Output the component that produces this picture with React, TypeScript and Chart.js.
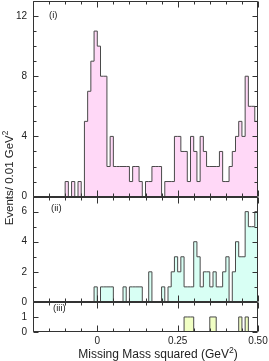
import React, { useEffect, useRef } from 'react';
import { Chart, registerables } from 'chart.js';

Chart.register(...registerables);

// Histogram binning (GeV^2): 70 bins of 0.01 from -0.20 to 0.50
const binStart = -0.2;
const binWidth = 0.01;

// (i) events per bin
const countsI = [
  0, 0, 0, 0, 0, 0, 0, 0, 0, 0,
  1, 0, 1, 0, 1, 0, 5, 7, 9, 11,
  10, 8, 8, 2, 4, 2, 2, 2, 2, 2,
  1, 2, 2, 1, 0, 1, 1, 2, 2, 2,
  0, 1, 1, 1, 4, 4, 3, 3, 1, 4,
  3, 1, 4, 3, 2, 2, 2, 2, 3, 1,
  1, 2, 3, 4, 5, 4, 8, 6, 6, 5,
];

// (ii) events per bin
const countsII = [
  0, 0, 0, 0, 0, 0, 0, 0, 0, 0,
  0, 0, 0, 0, 0, 0, 0, 0, 0, 1,
  0, 1, 1, 1, 1, 0, 0, 0, 1, 0,
  1, 1, 1, 1, 0, 0, 2, 0, 0, 0,
  1, 0, 1, 2, 3, 2, 3, 1, 1, 1,
  4, 3, 1, 2, 2, 1, 2, 1, 1, 2,
  3, 0, 2, 4, 3, 3, 6, 5, 5, 6,
];

// (iii) events per bin
const countsIII = [
  0, 0, 0, 0, 0, 0, 0, 0, 0, 0,
  0, 0, 0, 0, 0, 0, 0, 0, 0, 0,
  0, 0, 0, 0, 0, 0, 0, 0, 0, 0,
  0, 0, 0, 0, 0, 0, 0, 0, 0, 0,
  0, 0, 0, 0, 0, 0, 0, 1, 1, 1,
  0, 0, 0, 0, 0, 1, 1, 0, 0, 0,
  0, 0, 0, 0, 1, 0, 1, 0, 0, 0,
];

const yMaxI = 13;
const yMaxII = 7;
const yMaxIII = 2;
const yLabelsI = [0, 4, 8, 12];
const yLabelsII = [0, 2, 4, 6];
const yLabelsIII = [0, 1];

const xMin = -0.2;
const xMax = 0.5;
const xMinorStep = 0.05;
const xTickValues = [0, 0.25, 0.5];
const xTickLabels = ['0', '0.25', '0.50'];

const panelNames = ['(i)', '(ii)', '(iii)'];
const fillColors = ['#ffd8f7', '#d8fff4', '#f1ffc4'];

const xTitle = 'Missing Mass squared (GeV';
const yTitle = 'Events/ 0.01 GeV';
const titleSup = '2';

const FONT = '"Liberation Sans", Arial, Helvetica, sans-serif';

function stepPoints(counts: number[]) {
  const pts = counts.map((c, i) => ({ x: binStart + i * binWidth, y: c }));
  pts.push({ x: binStart + counts.length * binWidth, y: counts[counts.length - 1] });
  return pts;
}

export default function App() {
  const ref = useRef<HTMLCanvasElement>(null);

  useEffect(() => {
    const canvas = ref.current;
    if (!canvas) return;

    const panels = [
      { id: 'y1', counts: countsI, max: yMaxI, labels: yLabelsI, color: fillColors[0], name: panelNames[0], weight: 3, lx: 16, ly: 14 },
      { id: 'y2', counts: countsII, max: yMaxII, labels: yLabelsII, color: fillColors[1], name: panelNames[1], weight: 2, lx: 18, ly: 12 },
      { id: 'y3', counts: countsIII, max: yMaxIII, labels: yLabelsIII, color: fillColors[2], name: panelNames[2], weight: 1, lx: 20, ly: 6 },
    ];

    const drawSupText = (ctx: CanvasRenderingContext2D, main: string, cx: number, cy: number, size: number, closing: boolean) => {
      ctx.font = `${size}px ${FONT}`;
      const w1 = ctx.measureText(main).width;
      const w3 = ctx.measureText(')').width;
      ctx.font = `${size * 0.72}px ${FONT}`;
      const w2 = ctx.measureText(titleSup).width;
      const total = w1 + w2 + (closing ? w3 : 0);
      let x = cx - total / 2;
      ctx.textAlign = 'left';
      ctx.textBaseline = 'middle';
      ctx.font = `${size}px ${FONT}`;
      ctx.fillText(main, x, cy);
      x += w1;
      ctx.font = `${size * 0.72}px ${FONT}`;
      ctx.fillText(titleSup, x, cy - size * 0.38);
      x += w2;
      if (closing) {
        ctx.font = `${size}px ${FONT}`;
        ctx.fillText(')', x, cy);
      }
    };

    const framePlugin = {
      id: 'frame',
      afterDraw(chart: any) {
        const ctx: CanvasRenderingContext2D = chart.ctx;
        const { left, right } = chart.chartArea;
        const xs = chart.scales.x;
        const L = Math.round(left) + 0.5;
        const R = Math.round(right) - 0.5;

        // frames and inward ticks
        ctx.save();
        ctx.strokeStyle = '#333';
        ctx.lineWidth = 1;
        panels.forEach((p) => {
          const ys = chart.scales[p.id];
          const T = Math.round(ys.top) + 0.5;
          const B = Math.round(ys.bottom) - 0.5;
          ctx.beginPath();
          ctx.rect(L, T, R - L, B - T);
          for (let v = 0; v <= p.max; v++) {
            const y = Math.round(ys.getPixelForValue(v)) + 0.5;
            const len = p.labels.includes(v) ? 5 : 3;
            ctx.moveTo(L, y);
            ctx.lineTo(L + len, y);
            ctx.moveTo(R, y);
            ctx.lineTo(R - len, y);
          }
          const n = Math.round((xMax - xMin) / xMinorStep);
          for (let k = 0; k <= n; k++) {
            const v = xMin + k * xMinorStep;
            const x = Math.round(xs.getPixelForValue(v)) + 0.5;
            const major = xTickValues.some((m) => Math.abs(m - v) < 1e-9);
            const len = major ? 6 : 3;
            ctx.moveTo(x, B);
            ctx.lineTo(x, B - len);
            ctx.moveTo(x, T);
            ctx.lineTo(x, T + len);
          }
          ctx.stroke();
        });
        ctx.restore();

        // panel names
        ctx.save();
        ctx.fillStyle = '#222';
        ctx.font = `9.5px ${FONT}`;
        ctx.textAlign = 'left';
        ctx.textBaseline = 'middle';
        panels.forEach((p) => {
          const ys = chart.scales[p.id];
          ctx.fillText(p.name, left + p.lx, ys.top + p.ly);
        });
        ctx.restore();

        // axis titles
        ctx.save();
        ctx.fillStyle = '#222';
        drawSupText(ctx, xTitle, 158, 355, 12, true);
        ctx.restore();
        ctx.save();
        ctx.fillStyle = '#222';
        ctx.translate(10, 178);
        ctx.rotate(-Math.PI / 2);
        drawSupText(ctx, yTitle, 0, 0, 11.5, false);
        ctx.restore();

        // y tick labels (drawn last)
        ctx.save();
        ctx.fillStyle = '#222';
        ctx.font = `10px ${FONT}`;
        ctx.textAlign = 'right';
        ctx.textBaseline = 'middle';
        panels.forEach((p) => {
          const ys = chart.scales[p.id];
          p.labels.forEach((v: number) => {
            ctx.fillText(String(v), 27, ys.getPixelForValue(v));
          });
        });
        ctx.restore();
      },
    };

    const yScale = (p: any, stackWeight: number) => ({
      type: 'linear',
      position: 'left',
      stack: 'panels',
      stackWeight,
      weight: p.weight,
      min: 0,
      max: p.max,
      afterFit: (s: any) => {
        s.width = 33;
        s.paddingTop = 0;
        s.paddingBottom = 0;
      },
      ticks: { display: false },
      grid: { display: false, drawTicks: false },
      border: { display: false },
    });

    const chart = new Chart(canvas, {
      type: 'line',
      data: {
        datasets: panels.map((p) => ({
          data: stepPoints(p.counts),
          yAxisID: p.id,
          stepped: true,
          fill: 'origin',
          backgroundColor: p.color,
          borderColor: '#4a4a4a',
          borderWidth: 1,
          pointRadius: 0,
          pointHoverRadius: 0,
        })),
      } as any,
      options: {
        responsive: false,
        animation: false,
        devicePixelRatio: 1,
        layout: { padding: { top: 1, right: 11, left: 0, bottom: 0 } },
        plugins: { legend: { display: false }, tooltip: { enabled: false } },
        scales: {
          x: {
            type: 'linear',
            position: 'bottom',
            min: xMin,
            max: xMax,
            afterBuildTicks: (s: any) => {
              s.ticks = xTickValues.map((v) => ({ value: v }));
            },
            afterFit: (s: any) => {
              s.height = 29;
              s.paddingLeft = 0;
              s.paddingRight = 0;
            },
            ticks: {
              padding: 3,
              autoSkip: false,
              maxRotation: 0,
              color: '#222',
              font: { family: FONT, size: 10 },
              callback: (_v: any, i: number) => xTickLabels[i],
            },
            grid: { display: false, drawTicks: false },
            border: { display: false },
          },
          y1: yScale(panels[0], yMaxI),
          y2: yScale(panels[1], yMaxII),
          y3: yScale(panels[2], yMaxIII),
        } as any,
      },
      plugins: [framePlugin],
    });

    return () => chart.destroy();
  }, []);

  return (
    <div style={{ position: 'absolute', left: 0, top: 0, width: 269, height: 361, background: '#fff' }}>
      <canvas ref={ref} width={269} height={361} style={{ display: 'block', width: 269, height: 361 }} />
    </div>
  );
}
